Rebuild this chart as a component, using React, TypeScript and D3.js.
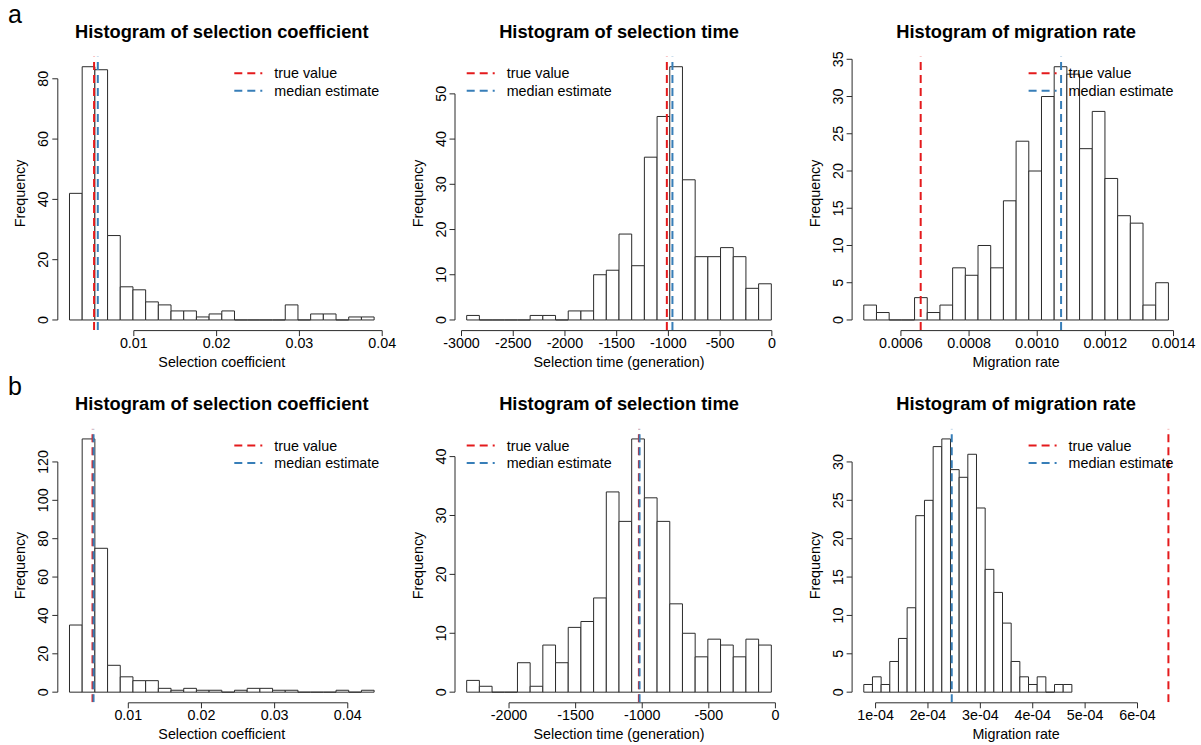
import { useEffect, useRef } from "react"
import * as d3 from "d3"

// counts per bin (24 bins each)
const coefCountsA = [42, 84, 83, 28, 11, 10, 6, 5, 3, 3, 1, 2, 3, 0, 0, 0, 0, 5, 0, 2, 2, 0, 1, 1]
const timeCountsA = [1, 0, 0, 0, 0, 1, 1, 0, 2, 2, 10, 11, 19, 12, 36, 45, 56, 31, 14, 14, 16, 14, 7, 8]
const migCountsA = [2, 1, 0, 0, 3, 1, 2, 7, 6, 10, 7, 16, 24, 20, 30, 34, 33, 23, 28, 19, 14, 13, 2, 5]
const coefCountsB = [35, 132, 75, 14, 8, 6, 6, 2, 1, 2, 1, 1, 0, 1, 2, 2, 1, 1, 0, 0, 0, 1, 0, 1]
const timeCountsB = [2, 1, 0, 0, 5, 1, 8, 5, 11, 12, 16, 34, 29, 43, 33, 29, 15, 10, 6, 9, 8, 6, 9, 8]
const migCountsB = [1, 2, 1, 4, 7, 11, 23, 25, 32, 33, 29, 28, 31, 24, 16, 13, 9, 4, 2, 1, 2, 0, 1, 1]

// first break and bin width of each histogram
const binStarts = [0.00223, -2950, 0.000491, 0.00196, -2318, 0.0000775]
const binWidths = [0.001533, 122.7, 0.00003725, 0.001735, 95.3, 0.00001655]

// true value / median estimate (dashed lines)
const trueValues = [0.0052, -1015, 0.000658, 0.00511, -1025, 0.000659]
const medianValues = [0.00565, -961, 0.00107, 0.00525, -1020, 0.0002454]

// axis ticks
const coefTicks = [0.01, 0.02, 0.03, 0.04]
const coefTickLabels = ["0.01", "0.02", "0.03", "0.04"]
const timeTicksA = [-3000, -2500, -2000, -1500, -1000, -500, 0]
const timeTicksB = [-2000, -1500, -1000, -500, 0]
const migTicksA = [0.0006, 0.0008, 0.001, 0.0012, 0.0014]
const migTickLabelsA = ["0.0006", "0.0008", "0.0010", "0.0012", "0.0014"]
const migTicksB = [0.0001, 0.0002, 0.0003, 0.0004, 0.0005, 0.0006]
const migTickLabelsB = ["1e-04", "2e-04", "3e-04", "4e-04", "5e-04", "6e-04"]
const yTicksList = [
  [0, 20, 40, 60, 80],
  [0, 10, 20, 30, 40, 50],
  [0, 5, 10, 15, 20, 25, 30, 35],
  [0, 20, 40, 60, 80, 100, 120],
  [0, 10, 20, 30, 40],
  [0, 5, 10, 15, 20, 25, 30],
]

const titles = ["Histogram of selection coefficient", "Histogram of selection time", "Histogram of migration rate"]
const xLabels = ["Selection coefficient", "Selection time (generation)", "Migration rate"]
const legendLabels = ["true value", "median estimate"]
const rowLabels = ["a", "b"]

const RED = "#E41A1C"
const BLUE = "#377EB8"
const INK = "#2b2b2b"
const FONT = "'Liberation Sans', Arial, Helvetica, sans-serif"

const panels = [
  { counts: coefCountsA, xTicks: coefTicks, xTickLabels: coefTickLabels, legend: "right" },
  { counts: timeCountsA, xTicks: timeTicksA, xTickLabels: timeTicksA.map(String), legend: "left" },
  { counts: migCountsA, xTicks: migTicksA, xTickLabels: migTickLabelsA, legend: "right" },
  { counts: coefCountsB, xTicks: coefTicks, xTickLabels: coefTickLabels, legend: "right" },
  { counts: timeCountsB, xTicks: timeTicksB, xTickLabels: timeTicksB.map(String), legend: "left" },
  { counts: migCountsB, xTicks: migTicksB, xTickLabels: migTickLabelsB, legend: "right" },
]

const App = () => {
  const ref = useRef(null)
  const width = 1201
  const height = 745
  const colLeft = [57.3, 454.5, 851.6]
  const rowTop = [56.6, 428.8]
  const plotW = 329
  const plotH = 273.5

  useEffect(() => {
    document.body.style.margin = "0"
    const svg = d3.select(ref.current)
    svg.selectAll("*").remove()
    svg.append("rect").attr("width", width).attr("height", height).attr("fill", "white")

    rowLabels.forEach((lab, r) => {
      svg.append("text")
        .attr("x", 8).attr("y", rowTop[r] - 34)
        .attr("font-family", FONT).attr("font-size", 25)
        .text(lab)
    })

    panels.forEach((p, i) => {
      const col = i % 3
      const row = Math.floor(i / 3)
      const left = colLeft[col]
      const top = rowTop[row]
      const bottom = top + plotH
      const right = left + plotW

      const start = binStarts[i]
      const bw = binWidths[i]
      const end = start + p.counts.length * bw
      const lo = Math.min(start, trueValues[i], medianValues[i])
      const hi = Math.max(end, trueValues[i], medianValues[i])
      const pad = (hi - lo) * 0.04
      const x = d3.scaleLinear().domain([lo - pad, hi + pad]).range([left, right])
      const ymax = d3.max(p.counts)
      const y = d3.scaleLinear().domain([-ymax * 0.04, ymax * 1.04]).range([bottom, top])

      const g = svg.append("g").attr("font-family", FONT)

      const clipId = "clip" + i
      g.append("clipPath").attr("id", clipId)
        .append("rect").attr("x", left).attr("y", top).attr("width", plotW).attr("height", plotH)

      // bars (paths so that empty bins still show as a line on the baseline)
      g.append("g")
        .selectAll("path")
        .data(p.counts)
        .join("path")
        .attr("d", (d, k) => {
          const x0 = x(start + k * bw)
          const x1 = x(start + (k + 1) * bw)
          return `M${x0},${y(0)}V${y(d)}H${x1}V${y(0)}Z`
        })
        .attr("fill", "white")
        .attr("stroke", INK)
        .attr("stroke-width", 1)

      // x axis
      const xa = g.append("g").attr("stroke", INK).attr("stroke-width", 1)
      xa.append("line")
        .attr("x1", x(p.xTicks[0])).attr("x2", x(p.xTicks[p.xTicks.length - 1]))
        .attr("y1", bottom + 0.5).attr("y2", bottom + 0.5)
      xa.selectAll(".tk").data(p.xTicks).join("line")
        .attr("class", "tk")
        .attr("x1", d => x(d)).attr("x2", d => x(d))
        .attr("y1", bottom + 0.5).attr("y2", bottom + 6)
      g.append("g").selectAll("text").data(p.xTicks).join("text")
        .attr("x", d => x(d)).attr("y", bottom + 18)
        .attr("text-anchor", "middle").attr("font-size", 14.3)
        .text((d, k) => p.xTickLabels[k])
      g.append("text")
        .attr("x", (left + right) / 2).attr("y", bottom + 37)
        .attr("text-anchor", "middle").attr("font-size", 14.3)
        .text(xLabels[col])

      // y axis
      const yt = yTicksList[i]
      const ya = g.append("g").attr("stroke", INK).attr("stroke-width", 1)
      ya.append("line")
        .attr("x1", left + 0.5).attr("x2", left + 0.5)
        .attr("y1", y(yt[0])).attr("y2", y(yt[yt.length - 1]))
      ya.selectAll(".tk").data(yt).join("line")
        .attr("class", "tk")
        .attr("x1", left + 0.5).attr("x2", left - 5)
        .attr("y1", d => y(d)).attr("y2", d => y(d))
      g.append("g").selectAll("text").data(yt).join("text")
        .attr("transform", d => `translate(${left - 9},${y(d)}) rotate(-90)`)
        .attr("text-anchor", "middle").attr("font-size", 14.3)
        .text(d => String(d))
      g.append("text")
        .attr("transform", `translate(${left - 32},${(top + bottom) / 2}) rotate(-90)`)
        .attr("text-anchor", "middle").attr("font-size", 14.3)
        .text("Frequency")

      // title
      g.append("text")
        .attr("x", (left + right) / 2).attr("y", top - 18.6)
        .attr("text-anchor", "middle").attr("font-size", 18.3).attr("font-weight", "bold")
        .text(titles[col])

      // true value and median estimate
      const vlines = g.append("g").attr("clip-path", `url(#${clipId})`)
      ;[[trueValues[i], RED], [medianValues[i], BLUE]].forEach(([v, c]) => {
        vlines.append("line")
          .attr("x1", x(v as number)).attr("x2", x(v as number))
          .attr("y1", bottom).attr("y2", top)
          .attr("stroke", c as string).attr("stroke-width", 2)
          .attr("stroke-dasharray", "8,5")
      })

      // legend
      const lx = p.legend === "right" ? right - 152 : left + 12.2
      const leg = g.append("g")
      legendLabels.forEach((lab, k) => {
        const cy = top + 16.7 + k * 17.4
        leg.append("line")
          .attr("x1", lx).attr("x2", lx + 28)
          .attr("y1", cy).attr("y2", cy)
          .attr("stroke", k === 0 ? RED : BLUE).attr("stroke-width", 2)
          .attr("stroke-dasharray", "8,5")
        leg.append("text")
          .attr("x", lx + 40).attr("y", cy + 5)
          .attr("font-size", 14.3)
          .text(lab)
      })
    })
  }, [])

  return (
    <svg ref={ref} width={width} height={height} style={{ position: "absolute", left: 0, top: 0 }} />
  )
}

export default App
